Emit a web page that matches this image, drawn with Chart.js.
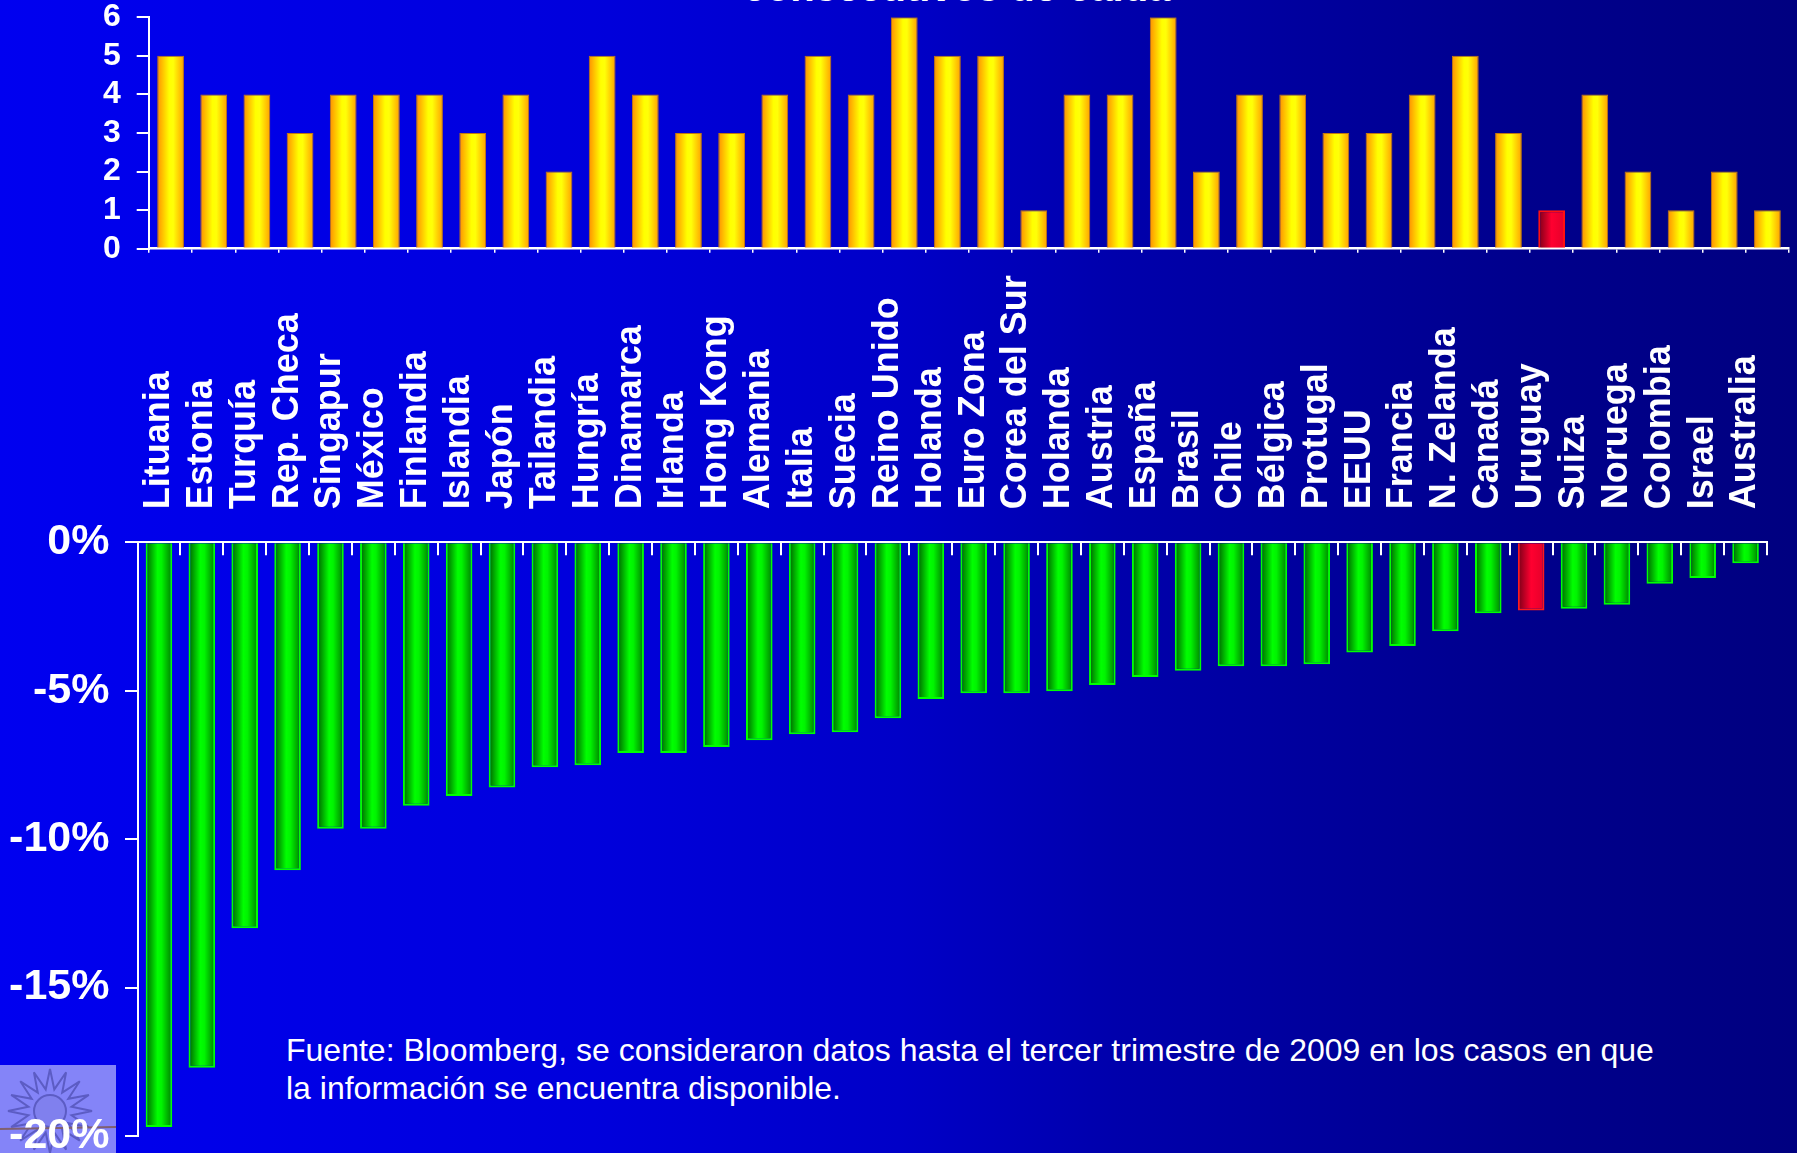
<!DOCTYPE html>
<html lang="es"><head><meta charset="utf-8">
<script src="https://cdn.jsdelivr.net/npm/chart.js@4/dist/chart.umd.min.js"></script>
<style>
html,body{margin:0;padding:0;}
body{width:1797px;height:1153px;overflow:hidden;position:relative;
 background:linear-gradient(to right,#0000f0 0%,#0000dc 33%,#0000c8 50%,#0000ac 62%,#00008c 85%,#000080 100%);
 font-family:"Liberation Sans",Arial,Helvetica,sans-serif;color:#fff;}
canvas{position:absolute;left:0;}
#cTop{top:0;}
#cBot{top:260px;}
#title{position:absolute;left:557px;width:800px;top:-79px;text-align:center;font-weight:bold;font-size:40px;line-height:44px;white-space:nowrap;}
#note{position:absolute;left:286px;top:1032px;font-size:32px;line-height:37.6px;white-space:nowrap;}
#logo{position:absolute;left:0;top:1065px;width:116px;height:88px;background:#8484f8;overflow:hidden;}
</style></head>
<body>
<div id="logo"><svg width="116" height="88" id="sun"></svg></div>
<div id="title">Trimestres<br>consecutivos de caída</div>
<div id="note">Fuente: Bloomberg, se consideraron datos hasta el tercer trimestre de 2009 en los casos en que<br>la información se encuentra disponible.</div>
<canvas id="cTop" width="1797" height="270"></canvas>
<canvas id="cBot" width="1797" height="893"></canvas>
<script>
const countries = ['Lituania','Estonia','Turquía','Rep. Checa','Singapur','México','Finlandia','Islandia','Japón','Tailandia','Hungría','Dinamarca','Irlanda','Hong Kong','Alemania','Italia','Suecia','Reino Unido','Holanda','Euro Zona','Corea del Sur','Holanda','Austria','España','Brasil','Chile','Bélgica','Protugal','EEUU','Francia','N. Zelanda','Canadá','Uruguay','Suiza','Noruega','Colombia','Israel','Australia'];
const quarters = [5,4,4,3,4,4,4,3,4,2,5,4,3,3,4,5,4,6,5,5,1,4,4,6,2,4,4,3,3,4,5,3,1,4,2,1,2,1];
const growth = [-19.7,-17.7,-13.0,-11.05,-9.65,-9.65,-8.88,-8.55,-8.26,-7.58,-7.51,-7.1,-7.1,-6.9,-6.67,-6.47,-6.4,-5.93,-5.28,-5.09,-5.09,-5.02,-4.81,-4.54,-4.33,-4.18,-4.18,-4.11,-3.71,-3.49,-3.0,-2.39,-2.3,-2.24,-2.1,-1.4,-1.2,-0.71];
const quarterTicks = [0,1,2,3,4,5,6];
const growthTicks = [0,-5,-10,-15,-20];
const highlight = 'Uruguay';

// decorative logo (sun)
(function(){
  const svg = document.getElementById('sun');
  let pts = [];
  const cx = 50, cy = 46;
  for (let k = 0; k < 32; k++) {
    const a = Math.PI * k / 16;
    const r = k % 2 === 0 ? 42 : 22;
    pts.push((cx + r * Math.cos(a)).toFixed(1) + ',' + (cy + r * Math.sin(a)).toFixed(1));
  }
  svg.innerHTML = '<polygon points="' + pts.join(' ') + '" fill="none" stroke="#5c5cc4" stroke-width="2"/>' +
    '<circle cx="' + cx + '" cy="' + cy + '" r="16" fill="#8080ee" stroke="#5c5cc4" stroke-width="2"/>' +
    '<line x1="0" y1="64" x2="116" y2="62" stroke="#806070" stroke-width="2"/>';
})();

const FONT = '"Liberation Sans", Arial, Helvetica, sans-serif';
const BAR_PCT = 0.62;
const isHi = i => countries[i] === highlight;

function grad(stopsNormal, stopsHi, solidN, solidH) {
  return (ctx) => {
    const hi = isHi(ctx.dataIndex);
    const solid = hi ? solidH : solidN;
    if (ctx.type !== 'data') return solid;
    const chart = ctx.chart, x = chart.scales && chart.scales.x;
    if (!x) return solid;
    const cx = x.getPixelForValue(ctx.dataIndex);
    const w = x.width / countries.length * BAR_PCT;
    if (!isFinite(cx) || !isFinite(w) || w <= 0) return solid;
    const g = chart.ctx.createLinearGradient(cx - w / 2, 0, cx + w / 2, 0);
    (hi ? stopsHi : stopsNormal).forEach(s => g.addColorStop(s[0], s[1]));
    return g;
  };
}
const yellowStops = [[0,'#ff9000'],[0.45,'#ffff00'],[0.6,'#ffff08'],[1,'#ffa000']];
const greenStops = [[0,'#006000'],[0.45,'#00ff00'],[0.6,'#00f400'],[1,'#007c00']];
const redStops = [[0,'#780018'],[0.5,'#ff0030'],[1,'#e4002a']];

const noPlugins = {legend:{display:false}, tooltip:{enabled:false}, title:{display:false}};
const noPad = s => { s.paddingTop = 0; s.paddingBottom = 0; s.paddingLeft = 0; s.paddingRight = 0; };

new Chart(document.getElementById('cTop'), {
  type: 'bar',
  data: {labels: countries, datasets: [{
    data: quarters,
    backgroundColor: grad(yellowStops, redStops, '#ffd000', '#ff0030'),
    borderColor: ctx => isHi(ctx.dataIndex) ? '#ff1010' : '#c07810',
    borderWidth: ctx => isHi(ctx.dataIndex) ? 2 : 1,
    barPercentage: BAR_PCT, categoryPercentage: 1
  }]},
  options: {
    responsive: false, animation: false,
    layout: {padding: {left: 0, top: 17.3, right: 8, bottom: 0}},
    plugins: noPlugins,
    scales: {
      x: {
        grid: {offset: true, drawOnChartArea: false, color: '#ffffff', lineWidth: 1.5, tickLength: 4},
        border: {color: '#ffffff', width: 2.5},
        ticks: {display: false},
        afterFit: s => { noPad(s); s.height = 21.3; }
      },
      y: {
        min: 0, max: 6,
        afterBuildTicks: s => { s.ticks = quarterTicks.map(v => ({value: v})); },
        ticks: {color: '#ffffff', font: {family: FONT, size: 32, weight: 'bold', lineHeight: 1}, padding: 16},
        grid: {drawOnChartArea: false, color: '#ffffff', lineWidth: 2, tickLength: 12.3},
        border: {color: '#ffffff', width: 2},
        afterFit: s => { noPad(s); s.width = 149; }
      }
    }
  }
});

new Chart(document.getElementById('cBot'), {
  type: 'bar',
  data: {labels: countries, datasets: [{
    data: growth,
    backgroundColor: grad(greenStops, redStops, '#00e000', '#ff0030'),
    borderColor: ctx => isHi(ctx.dataIndex) ? '#ff1a1a' : '#00ff00',
    borderWidth: 2,
    barPercentage: BAR_PCT, categoryPercentage: 1
  }]},
  options: {
    responsive: false, animation: false,
    layout: {padding: {left: 0, top: 0, right: 30, bottom: 17.1}},
    plugins: noPlugins,
    scales: {
      x: {
        position: 'top',
        grid: {offset: true, drawOnChartArea: false, color: '#ffffff', lineWidth: 2, tickLength: -13},
        border: {color: '#ffffff', width: 2},
        ticks: {autoSkip: false, minRotation: 90, maxRotation: 90, mirror: true, color: '#ffffff',
          font: {family: FONT, size: 36, weight: 'bold', lineHeight: 1.2}, padding: -33},
        afterFit: s => { noPad(s); s.height = 282.3; }
      },
      y: {
        min: -20, max: 0,
        afterBuildTicks: s => { s.ticks = growthTicks.map(v => ({value: v})); },
        ticks: {color: '#ffffff', font: {family: FONT, size: 43, weight: 'bold', lineHeight: 1}, padding: 15.5,
          callback: v => v + '%'},
        grid: {drawOnChartArea: false, color: '#ffffff', lineWidth: 2, tickLength: 12.5},
        border: {color: '#ffffff', width: 2},
        afterFit: s => { noPad(s); s.width = 137.5; }
      }
    }
  }
});
</script>
</body></html>
